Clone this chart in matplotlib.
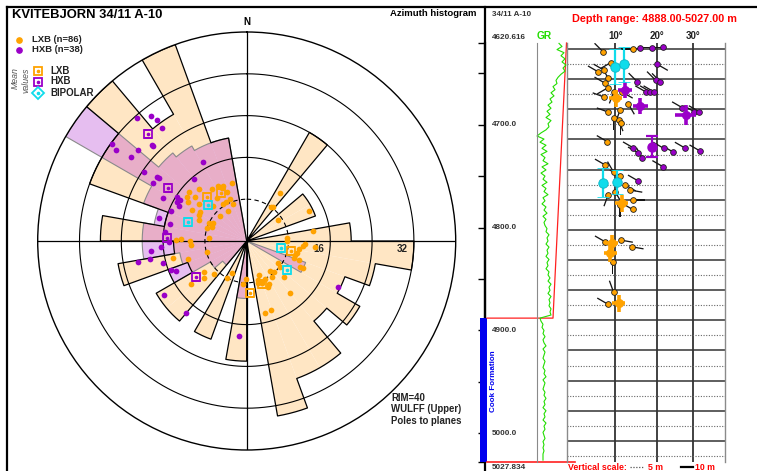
import numpy as np
import matplotlib
matplotlib.use("Agg")
import matplotlib.pyplot as plt
from matplotlib.ticker import MultipleLocator, FixedLocator
from matplotlib.patches import Rectangle

plt.rcParams['font.family'] = ['Liberation Sans', 'DejaVu Sans']

# ---------------- DATA ----------------
well_name = "KVITEBJORN 34/11 A-10"
well_short = "34/11 A-10"
n_lxb, n_hxb = 86, 38
rim = 40
rose_rings = [8, 16, 24, 32]
ring_labels = [16, 32]

bin_starts = list(range(0, 360, 10))
lxb_counts = [0, 0, 0, 24, 0, 14, 14, 0, 20, 32,
              25, 20, 25, 20, 28, 28, 34, 0, 23, 0,
              20, 0, 20, 20, 12, 25, 14, 28, 16, 32,
              32, 40, 28, 40, 20, 0]
hxb_counts = [0, 0, 0, 0, 0, 0, 0, 0, 0, 0,
              0, 12, 0, 0, 0, 0, 0, 0, 11, 0,
              0, 0, 6, 8, 16, 13, 20, 20, 18, 21,
              40, 22, 21, 20, 20, 0]

# poles (azimuth deg, radial position on rose scale)
lxb_pole_az = [346.0, 332.3, 334.6, 326.1, 317.6, 310.7, 306.1, 310.6, 324.9, 338.2, 332.2, 303.5, 308.0,
               316.3, 327.7, 340.1, 328.7, 299.4, 302.1, 313.1, 293.9, 295.5, 292.2, 274.1, 298.6,
               270.8, 271.5, 270.0, 265.9, 257.2, 252.6, 255.0,
               234.3, 228.9, 232.5, 224.2, 207.5, 204.9, 181.5, 185.3,
               34.6, 35.5, 37.6, 55.9, 64.1, 81.5, 86.2, 90.0, 95.1, 93.4, 94.8, 99.0, 103.6, 106.2, 110.0,
               115.7, 116.0, 125.2, 141.9, 138.4, 145.0, 159.7, 154.5, 163.4, 160.2, 155.0, 133.7, 140.4,
               165.7, 160.8,
               336.9, 338.5, 287.6, 298.7, 109.4, 127.7, 152.3, 164.7]
lxb_pole_r = [11.4, 11.9, 11.2, 12.0, 13.5, 14.5, 14.2, 13.0, 10.0, 8.6, 8.5, 13.4, 11.5,
              9.3, 8.4, 7.5, 6.8, 12.1, 10.5, 7.0, 9.9, 8.1, 7.2, 7.2, 10.4,
              13.5, 12.6, 10.9, 10.7, 14.4, 11.7, 7.9,
              10.1, 10.9, 13.5, 8.9, 8.0, 6.8, 7.3, 8.3,
              11.2, 7.9, 8.1, 7.2, 13.3, 12.9, 7.8, 7.8, 10.8, 11.2, 13.1, 10.1, 10.0, 9.6, 10.6,
              11.3, 11.9, 7.4, 7.2, 7.9, 8.3, 6.9, 8.1, 7.8, 8.5, 9.8, 9.9, 13.0,
              14.2, 14.0,
              11.4, 10.1, 8.0, 7.3, 9.6, 8.1, 9.3, 8.4]
hxb_pole_az = [318.1, 322.5, 323.4, 323.3, 315.5, 315.4, 309.9, 305.7, 306.0, 304.0,
               305.5, 305.8, 301.5, 297.0, 331.1, 319.8, 302.3, 301.6, 299.5, 291.5,
               284.5, 282.5, 276.5, 269.5, 264.2, 266.2, 258.9, 259.3, 255.5, 249.1,
               247.2, 236.8, 220.5, 184.5, 116.5, 297.4, 305.0]
hxb_pole_r = [31.5, 30.2, 28.9, 27.0, 25.8, 25.5, 27.2, 31.8, 27.4, 23.7,
              21.2, 20.7, 21.1, 18.0, 17.2, 15.5, 15.8, 15.0, 15.3, 15.6,
              17.4, 15.0, 15.8, 14.9, 18.4, 16.5, 21.2, 18.8, 16.6, 15.6,
              14.7, 18.9, 18.0, 18.2, 19.6, 14.7, 30.5]

lxb_mean_az = [317.5, 331.4, 102.4, 160.9, 176.4]
lxb_mean_r = [11.3, 10.4, 8.7, 8.8, 10.0]
hxb_mean_az = [317.4, 304.0, 272.5, 234.8]
hxb_mean_r = [27.8, 18.2, 15.3, 11.9]
bip_mean_az = [313.2, 288.3, 102.0, 125.5]
bip_mean_r = [10.1, 11.8, 6.7, 9.5]

# depth track
depth_top, depth_bottom = 4620.616, 5027.834
depth_ticks = [4650, 4700, 4750, 4800, 4850, 4900, 4950, 5000]
depth_labels = [4700, 4800, 4900, 5000]
zoom_top, zoom_bottom = 4888.0, 5027.0
formation_name = "Cook Formation"
formation_top = 4888.0

gr_depth = np.arange(4621, 5027, 3)
gr_api = [110, 125, 100, 135, 120, 140, 125, 145, 130, 140,
          120, 105, 95, 100, 80, 90, 70, 85, 65, 75,
          55, 70, 50, 65, 45, 70, 55, 60, 45, 20,
          0, 35, 15, 45, 25, 50, 20, 40, 30, 55,
          25, 45, 20, 40, 30, 50, 25, 45, 35, 55,
          30, 40, 25, 45, 35, 50, 30, 45, 35, 40,
          50, 45, 60, 50, 55, 45, 60, 50, 55, 45,
          60, 50, 55, 45, 60, 55, 65, 55, 70, 60,
          65, 55, 70, 60, 65, 60, 70, 65, 70, 15,
          20, 30, 25, 35, 30, 40, 30, 35, 45, 30,
          40, 35, 30, 40, 35, 30, 40, 35, 45, 30,
          40, 35, 30, 40, 35, 45, 35, 40, 30, 45,
          35, 40, 30, 45, 35, 40, 30, 35, 40, 30,
          35, 30, 35, 30, 30, 30]

# dip track tadpoles
dip_ticks = [10, 20, 30]
tad_type = "LLHHHHLLLL" + "HHHHHHHHH" + "LLLLLLLLLLLL" + "HHHHHHHHH" + "LLLLLLLLLLLLLLLL"
tad_depth = [4890.9, 4890.0, 4889.8, 4889.6, 4889.4, 4895.1, 4897.0, 4897.6, 4899.6, 4894.5,
             4900.8, 4900.3, 4900.9, 4904.2, 4904.2, 4904.2, 4910.8, 4910.8, 4909.5,
             4901.3, 4902.9, 4904.3, 4905.9, 4904.3, 4908.2, 4910.2, 4910.9, 4912.9, 4913.5, 4914.6, 4920.7,
             4922.8, 4924.5, 4926.2, 4922.9, 4922.9, 4923.8, 4929.0, 4924.1, 4933.8,
             4928.5, 4930.8, 4932.1, 4935.1, 4936.8, 4938.4, 4937.4, 4940.1, 4943.2, 4941.7,
             4953.4, 4955.6, 4954.0, 4960.7, 4974.6, 4970.6]
tad_dip = [7.3, 14.0, 15.9, 18.9, 21.6, 20.2, 7.5, 6.3, 8.4, 9.0,
           15.1, 19.7, 21.0, 17.2, 18.4, 19.3, 30.4, 31.9, 27.0,
           7.7, 8.3, 9.6, 7.5, 11.6, 13.0, 11.1, 8.4, 9.6, 10.8, 11.2, 8.2,
           14.2, 15.4, 16.4, 21.8, 27.8, 32.1, 21.6, 24.3, 15.4,
           7.8, 9.6, 11.1, 12.3, 13.5, 8.4, 10.0, 14.0, 14.0, 11.1,
           11.3, 13.8, 7.8, 9.4, 8.3, 9.6]
tad_azi = [315, 270, 270, 270, 270, 120, 300, 300, 330, 240,
           315, 315, 315, 300, 300, 300, 300, 300, 300,
           300, 240, 200, 290, 120, 150, 200, 290, 180, 160, 180, 300,
           300, 300, 330, 300, 300, 300, 300, 300, 300,
           300, 330, 300, 120, 100, 200, 150, 90, 300, 180,
           100, 100, 300, 180, 300, 340]

lxb_m_depth = [4906.3, 4941.2, 4954.4, 4957.8, 4974.4]
lxb_m_dip = [10.1, 11.5, 9.3, 8.9, 10.8]
lxb_m_dip_err = [1.5, 1.5, 1.4, 1.4, 1.5]
lxb_m_depth_err = [2.8, 2.8, 2.8, 2.8, 2.8]
hxb_m_depth = [4903.6, 4908.9, 4911.9]
hxb_m_dip = [12.3, 15.9, 28.0]
hxb_m_dip_err = [1.6, 1.8, 3.0]
hxb_m_depth_err = [2.8, 2.8, 3.3]
hxb_t_depth = [4922.4]
hxb_t_dip = [18.9]
hxb_t_err = [3.5]
bip_m_depth = [4895.9, 4895.1, 4934.3, 4934.0]
bip_m_dip = [10.0, 11.9, 7.2, 10.4]
bip_m_err = [5.8, 5.8, 4.8, 4.0]

# ---------------- STYLE ----------------
ORANGE = '#FFA200'
PURPLE = '#9A00C8'
CYAN = '#10DCEB'
C_L = '#FFE6C4'
C_H = '#E6BEF0'
C_LH = '#E8AEC8'

W, H = 757, 471
fig = plt.figure(figsize=(W / 100, H / 100), dpi=100)


def box(x0, y0, x1, y1):
    return [x0 / W, 1 - y1 / H, (x1 - x0) / W, (y1 - y0) / H]


# ---------------- background / frame / texts ----------------
ax_bg = fig.add_axes([0, 0, 1, 1])
ax_bg.set_xlim(0, W)
ax_bg.set_ylim(H, 0)
ax_bg.axis('off')
ax_bg.plot([7, 7], [7, H], color='k', lw=1.6)
ax_bg.plot([7, W], [7, 7], color='k', lw=1.6)
ax_bg.plot([485, 485], [7, H], color='k', lw=1.6)

ax_bg.text(12, 15.5, well_name, fontsize=9.4, fontweight='bold', va='center', ha='left')
ax_bg.text(477, 14, 'Azimuth histogram', fontsize=6.8, fontweight='bold', va='center', ha='right')

# legend
ax_bg.plot(19, 40, 'o', color=ORANGE, ms=3.8)
ax_bg.text(31.5, 40, f'LXB (n={n_lxb})', fontsize=6.8, fontweight='bold', va='center', color='#222')
ax_bg.plot(19, 49.5, 'o', color=PURPLE, ms=3.8)
ax_bg.text(31.5, 49.5, f'HXB (n={n_hxb})', fontsize=6.8, fontweight='bold', va='center', color='#222')
ax_bg.text(15.5, 78, 'Mean', rotation=90, fontsize=6.3, fontstyle='italic', color='#555',
           ha='center', va='center')
ax_bg.text(26.5, 80, 'values', rotation=90, fontsize=6.3, fontstyle='italic', color='#555',
           ha='center', va='center')
for yy, col, mk, lab in [(71, ORANGE, 's', 'LXB'), (81.5, PURPLE, 's', 'HXB'), (92.5, CYAN, 'D', 'BIPOLAR')]:
    ax_bg.plot(37.7, yy, mk, mfc='none', mec=col, ms=6, mew=1.3)
    ax_bg.plot(37.7, yy, 'o', color=col, ms=1.6)
    ax_bg.text(50, yy, lab, fontsize=7, fontweight='bold', va='center', color='#222')

ax_bg.text(391, 398, f'RIM={rim}', fontsize=6.9, fontweight='bold', va='center', color='#222')
ax_bg.text(391, 409.5, 'WULFF (Upper)', fontsize=6.9, fontweight='bold', va='center', color='#222')
ax_bg.text(391, 421, 'Poles to planes', fontsize=6.9, fontweight='bold', va='center', color='#222')

# right panel header
ax_bg.text(492, 15, well_short, fontsize=5.8, fontweight='bold', va='center', color='#333')
ax_bg.text(572, 19, f'Depth range: {zoom_top:.2f}-{zoom_bottom:.2f} m', fontsize=7.8,
           fontweight='bold', color='#FF0000', va='center')
# vertical scale legend
ax_bg.text(568, 467.5, 'Vertical scale:', fontsize=6.3, fontweight='bold', color='#FF0000', va='center')
ax_bg.plot([630, 643], [467, 467], color='#555', lw=0.9, ls=(0, (1, 1.3)))
ax_bg.text(648, 467.5, '5 m', fontsize=6.3, fontweight='bold', color='#FF0000', va='center')
ax_bg.plot([681, 693], [467, 467], color='k', lw=1.6)
ax_bg.text(695, 467.5, '10 m', fontsize=6.3, fontweight='bold', color='#FF0000', va='center')

# ---------------- rose diagram ----------------
ax_r = fig.add_axes(box(37.7, 32, 455.7, 450), projection='polar')
ax_r.set_theta_zero_location('N')
ax_r.set_theta_direction(-1)
ax_r.set_ylim(0, rim)
ax_r.set_facecolor('none')
ax_r.set_xticks([])
ax_r.set_yticks([])
ax_r.grid(False)
ax_r.spines['polar'].set_linewidth(1.0)
ax_r.spines['polar'].set_color('k')

bs = np.array(bin_starts, dtype=float)
theta_c = np.deg2rad(bs + 5)
bw = np.deg2rad(10)
Lc = np.array(lxb_counts, dtype=float)
Hc = np.array(hxb_counts, dtype=float)
ax_r.bar(theta_c, Lc, width=bw, bottom=0, color=C_L, lw=0, zorder=1)
ax_r.bar(theta_c, Hc, width=bw, bottom=0, color=C_H, lw=0, zorder=1.1)
ax_r.bar(theta_c, np.minimum(Lc, Hc), width=bw, bottom=0, color=C_LH, lw=0, zorder=1.2)


def outline(counts):
    th, rr = [], []
    for b, c in zip(bin_starts, counts):
        t = np.linspace(b, b + 10, 16)
        th.extend(t)
        rr.extend([c] * len(t))
    th.append(360.0)
    rr.append(counts[0])
    return np.deg2rad(th), np.array(rr, dtype=float)


t_h, r_h = outline(hxb_counts)
ax_r.plot(t_h, r_h, color='#8A8A8A', lw=0.8, zorder=2)
t_l, r_l = outline(lxb_counts)
ax_r.plot(t_l, r_l, color='k', lw=0.9, zorder=2.1)

full = np.linspace(0, 2 * np.pi, 361)
for rr in rose_rings:
    ls = (0, (4, 3)) if rr == rose_rings[0] else '-'
    ax_r.plot(full, np.full_like(full, rr), color='k', lw=0.8, ls=ls, zorder=2.2)
for a in [0, 90, 180, 270]:
    ax_r.plot([np.deg2rad(a)] * 2, [0, rim], color='k', lw=0.9, zorder=2.3)

ax_r.annotate('N', xy=(0, rim), xytext=(0, 3.5), textcoords='offset points', ha='center', va='bottom',
              fontsize=7, fontweight='bold', annotation_clip=False)
for v in ring_labels:
    ax_r.annotate(str(v), xy=(np.pi / 2, v), xytext=(-4.5, -2), textcoords='offset points',
                  ha='right', va='top', fontsize=7, fontweight='bold', color='#222')

ax_r.scatter(np.deg2rad(lxb_pole_az), lxb_pole_r, s=17, color=ORANGE, lw=0, zorder=3)
ax_r.scatter(np.deg2rad(hxb_pole_az), hxb_pole_r, s=17, color=PURPLE, lw=0, zorder=3)
for az, rr, col in [(lxb_mean_az, lxb_mean_r, ORANGE), (hxb_mean_az, hxb_mean_r, PURPLE),
                    (bip_mean_az, bip_mean_r, CYAN)]:
    ax_r.plot(np.deg2rad(az), rr, 's', mfc='none', mec=col, ms=6, mew=1.3, ls='none', zorder=4)
    ax_r.plot(np.deg2rad(az), rr, 'o', color=col, ms=1.6, ls='none', zorder=4)

# ---------------- depth axis / GR ----------------
ax_dep = fig.add_axes(box(485, 43, 537, 462))
ax_dep.set_xlim(0, 52)
ax_dep.set_ylim(depth_bottom, depth_top)
ax_dep.set_facecolor('none')
for s in ['top', 'right', 'bottom']:
    ax_dep.spines[s].set_visible(False)
ax_dep.spines['left'].set_linewidth(1.6)
ax_dep.yaxis.set_major_locator(FixedLocator(depth_ticks + [depth_top, depth_bottom]))
ax_dep.tick_params(axis='y', direction='out', length=5, width=1, labelleft=False)
ax_dep.tick_params(axis='x', bottom=False, labelbottom=False)
for d in depth_labels:
    ax_dep.text(7, d, f'{d:.1f}', fontsize=5.9, fontweight='bold', color='#333', va='center')
ax_dep.annotate(f'{depth_top:.3f}', xy=(7, depth_top), xytext=(0, 1.5), textcoords='offset points',
                fontsize=5.9, fontweight='bold', color='#333', va='bottom', annotation_clip=False)
ax_dep.annotate(f'{depth_bottom:.3f}', xy=(7, depth_bottom), xytext=(0, -1.2), textcoords='offset points',
                fontsize=5.9, fontweight='bold', color='#333', va='top', annotation_clip=False)
ax_dep.add_patch(Rectangle((-5, formation_top), 7, depth_bottom - formation_top,
                           color='#0000EE', lw=0, clip_on=False, zorder=3))
ax_dep.text(8.5, (formation_top + 5010) / 2, formation_name, rotation=90, fontsize=5.8,
            fontweight='bold', color='#0000EE', ha='center', va='center')
# zoom connection lines
ax_dep.plot([2, 68, 81.5], [zoom_top, zoom_top, depth_top], color='#FF2020', lw=0.9, clip_on=False, zorder=4)
ax_dep.plot([2, 90], [depth_bottom, depth_bottom], color='#FF2020', lw=1.2, clip_on=False, zorder=4)

ax_gr = fig.add_axes(box(537, 43, 567, 462))
ax_gr.set_xlim(0, 150)
ax_gr.set_ylim(depth_bottom, depth_top)
ax_gr.set_facecolor('none')
for s in ['top', 'right', 'bottom']:
    ax_gr.spines[s].set_visible(False)
ax_gr.spines['left'].set_color('#8A8A8A')
ax_gr.spines['left'].set_linewidth(0.8)
ax_gr.set_xticks([])
ax_gr.set_yticks([])
n = min(len(gr_depth), len(gr_api))
ax_gr.plot(gr_api[:n], gr_depth[:n], color='#22DD00', lw=0.8, clip_on=False)
ax_gr.text(0, 1.004, 'GR', transform=ax_gr.transAxes, fontsize=7.4, fontweight='bold',
           color='#22DD00', va='bottom', ha='left')

# ---------------- dip track ----------------
ax_d = fig.add_axes(box(567, 43, 725, 462))
ax_d.set_xscale('function', functions=(lambda d: np.log1p(np.asarray(d) / 55.0),
                                       lambda x: 55.0 * np.expm1(np.asarray(x))))
ax_d.set_xlim(0, 40)
ax_d.set_ylim(zoom_bottom, zoom_top)
ax_d.set_facecolor('none')
ax_d.spines['top'].set_visible(False)
ax_d.spines['bottom'].set_visible(False)
ax_d.spines['left'].set_color('#8A8A8A')
ax_d.spines['right'].set_color('#8A8A8A')
ax_d.spines['left'].set_linewidth(1.0)
ax_d.spines['right'].set_linewidth(1.0)
ax_d.yaxis.set_major_locator(MultipleLocator(10))
ax_d.yaxis.set_minor_locator(MultipleLocator(5))
ax_d.set_xticks(dip_ticks)
ax_d.xaxis.tick_top()
ax_d.set_xticklabels([f'{t}°' for t in dip_ticks], fontsize=7, fontweight='bold', color='#222')
ax_d.tick_params(axis='both', which='both', length=0)
ax_d.tick_params(axis='x', pad=1.5)
ax_d.tick_params(axis='y', which='both', labelleft=False)
ax_d.grid(True, which='major', axis='y', color='#333333', lw=1.1, ls='-')
ax_d.grid(True, which='minor', axis='y', color='#666666', lw=0.8, ls=(0, (1, 1.4)))
ax_d.grid(True, which='major', axis='x', color='#333333', lw=1.3, ls='-')
ax_d.set_axisbelow(True)

types = np.array(list(tad_type))
tdep = np.array(tad_depth)
tdip = np.array(tad_dip)
tazi = np.deg2rad(np.array(tad_azi, dtype=float))
tail = 12.0
U = tail * np.sin(tazi)
V = tail * np.cos(tazi)
ax_d.quiver(tdip, tdep, U, V, angles='uv', scale_units='dots', scale=1, units='dots', width=1.3,
            headwidth=0, headlength=0, headaxislength=0, pivot='tail', color='#151515', zorder=3)
for code, col in [('L', ORANGE), ('H', PURPLE)]:
    m = types == code
    ax_d.scatter(tdip[m], tdep[m], s=17, color=col, edgecolors='#202020', linewidths=0.6, zorder=4)

ax_d.errorbar(lxb_m_dip, lxb_m_depth, xerr=lxb_m_dip_err, yerr=lxb_m_depth_err, fmt='o', ms=5.5,
              color=ORANGE, mec=ORANGE, elinewidth=2.6, capsize=0, zorder=5)
ax_d.errorbar(hxb_m_dip, hxb_m_depth, xerr=hxb_m_dip_err, yerr=hxb_m_depth_err, fmt='o', ms=5.5,
              color=PURPLE, mec=PURPLE, elinewidth=2.6, capsize=0, zorder=5)
ax_d.errorbar(hxb_t_dip, hxb_t_depth, yerr=hxb_t_err, fmt='o', ms=6.5, color=PURPLE, mec=PURPLE,
              elinewidth=1.6, capsize=4.5, capthick=1.6, zorder=5)
ax_d.errorbar(bip_m_dip, bip_m_depth, yerr=bip_m_err, fmt='o', ms=6.8, color=CYAN, mec='#0BB5C5',
              mew=0.6, elinewidth=1.6, capsize=4.5, capthick=1.6, ecolor=CYAN, zorder=5)

fig.savefig('out.png', dpi=100)
